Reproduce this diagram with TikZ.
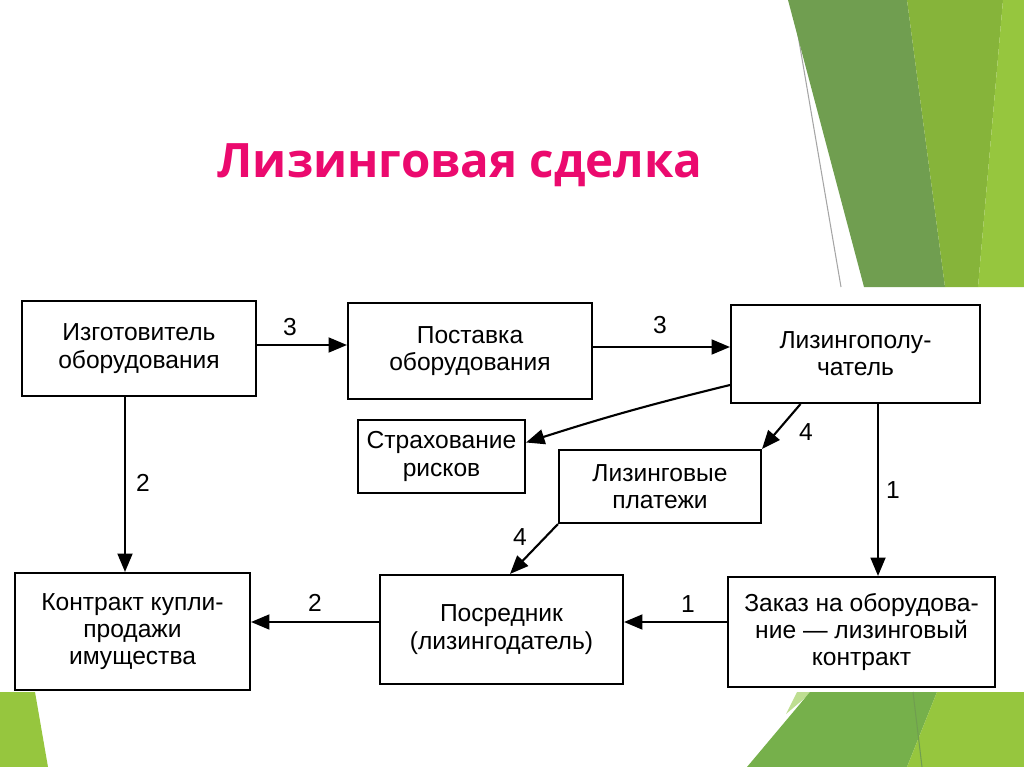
\documentclass[tikz,border=0pt]{standalone}
\usepackage{fontspec}
\setmainfont{Liberation Sans}
\newfontfamily\titlefont{Open Sans}
\usetikzlibrary{arrows.meta, positioning, calc}
\definecolor{titlepink}{RGB}{235, 10, 110}
\definecolor{darkgreen}{RGB}{112, 158, 80}
\definecolor{midgreen}{RGB}{134, 180, 58}
\definecolor{lightgreen}{RGB}{150, 198, 62}
\definecolor{leafgreen}{RGB}{118, 176, 75}
\definecolor{palegreen}{RGB}{190, 222, 145}
\definecolor{linegray}{RGB}{165, 165, 165}

\begin{document}
\begin{tikzpicture}[x=0.02cm, y=-0.02cm,
  box/.style={draw, line width=1.2pt, align=center, inner sep=2pt,
    font=\fontsize{14}{15.5}\selectfont},
  arr/.style={-{Triangle[length=10.5pt, width=8.5pt]}, line width=1.2pt},
  num/.style={font=\fontsize{14}{16}\selectfont}
]
  \useasboundingbox (0,0) rectangle (1024,767);

  % Green decoration
  \draw[linegray, line width=0.6pt] (792,0) -- (841,287);
  \fill[darkgreen] (788,0) -- (907,0) -- (945,287) -- (864,287) -- cycle;
  \fill[midgreen] (907,0) -- (1003,0) -- (978,287) -- (945,287) -- cycle;
  \fill[lightgreen] (1003,0) -- (1024,0) -- (1024,287) -- (978,287) -- cycle;
  \fill[lightgreen] (0,692) -- (35,692) -- (48,767) -- (0,767) -- cycle;
  \fill[palegreen] (797,692) -- (812,692) -- (786,714) -- cycle;
  \fill[leafgreen] (810,692) -- (937,692) -- (907,767) -- (747,767) -- cycle;
  \fill[lightgreen] (937,692) -- (1024,692) -- (1024,767) -- (907,767) -- cycle;
  \draw[darkgreen, line width=0.6pt] (913,692) -- (922,767);

  % Title
  \node[font=\titlefont\bfseries\fontsize{27}{30}\selectfont, text=titlepink] (title) at (460,165) {Лизинговая сделка};

  % Boxes
  \node[box, minimum width=4.68cm, minimum height=1.9cm] (izg) at (139,348.5) {Изготовитель\\оборудования};
  \node[box, minimum width=4.88cm, minimum height=1.92cm] (post) at (470,351) {Поставка\\оборудования};
  \node[box, minimum width=4.98cm, minimum height=1.96cm] (lp) at (855.5,354) {Лизингополу-\\чатель};
  \node[box, minimum width=3.34cm, minimum height=1.46cm] (str) at (441.5,456.5) {Страхование\\рисков};
  \node[box, minimum width=4.04cm, minimum height=1.46cm] (plat) at (660,486.5) {Лизинговые\\платежи};
  \node[box, minimum width=4.7cm, minimum height=2.34cm] (kon) at (132.5,631.5) {Контракт купли-\\продажи\\имущества};
  \node[box, minimum width=4.86cm, minimum height=2.18cm] (pos) at (501.5,629.5) {Посредник\\(лизингодатель)};
  \node[box, minimum width=5.34cm, minimum height=2.2cm] (zak) at (861.5,632) {Заказ на оборудова-\\ние — лизинговый\\контракт};

  % Connectors
  \coordinate (a1) at ($(izg.east)+(0,-3.5)$);
  \coordinate (b1) at ($(post.east)+(0,-4)$);
  \coordinate (a2) at ($(izg.south)+(-14,0)$);
  \coordinate (c1) at ($(lp.south)+(22.5,0)$);
  \coordinate (h1) at ($(zak.west)+(0,-10)$);
  \coordinate (g1) at ($(pos.west)+(0,-7.5)$);
  \draw[arr] (a1) -- (a1 -| post.west);
  \draw[arr] (b1) -- (b1 -| lp.west);
  \draw[arr] ($(lp.west)+(0,31)$) to[bend right=2] ($(str.east)+(0,-14)$);
  \draw[arr] ($(lp.south)+(-55,0)$) -- (plat.north east);
  \draw[arr] (c1) -- (c1 |- zak.north);
  \draw[arr] (a2) -- (a2 |- kon.north);
  \draw[arr] (plat.south west) -- ($(pos.north)+(8.5,0)$);
  \draw[arr] (h1) -- (h1 -| pos.east);
  \draw[arr] (g1) -- (g1 -| kon.east);

  % Numbers
  \foreach \x/\y/\t in {290/327/3, 660/325/3, 806/432/4, 893/490/1, 143/483/2, 520/537/4, 688/604/1, 315/603/2} {
    \node[num] at (\x,\y) {\t};
  }
\end{tikzpicture}
\end{document}
